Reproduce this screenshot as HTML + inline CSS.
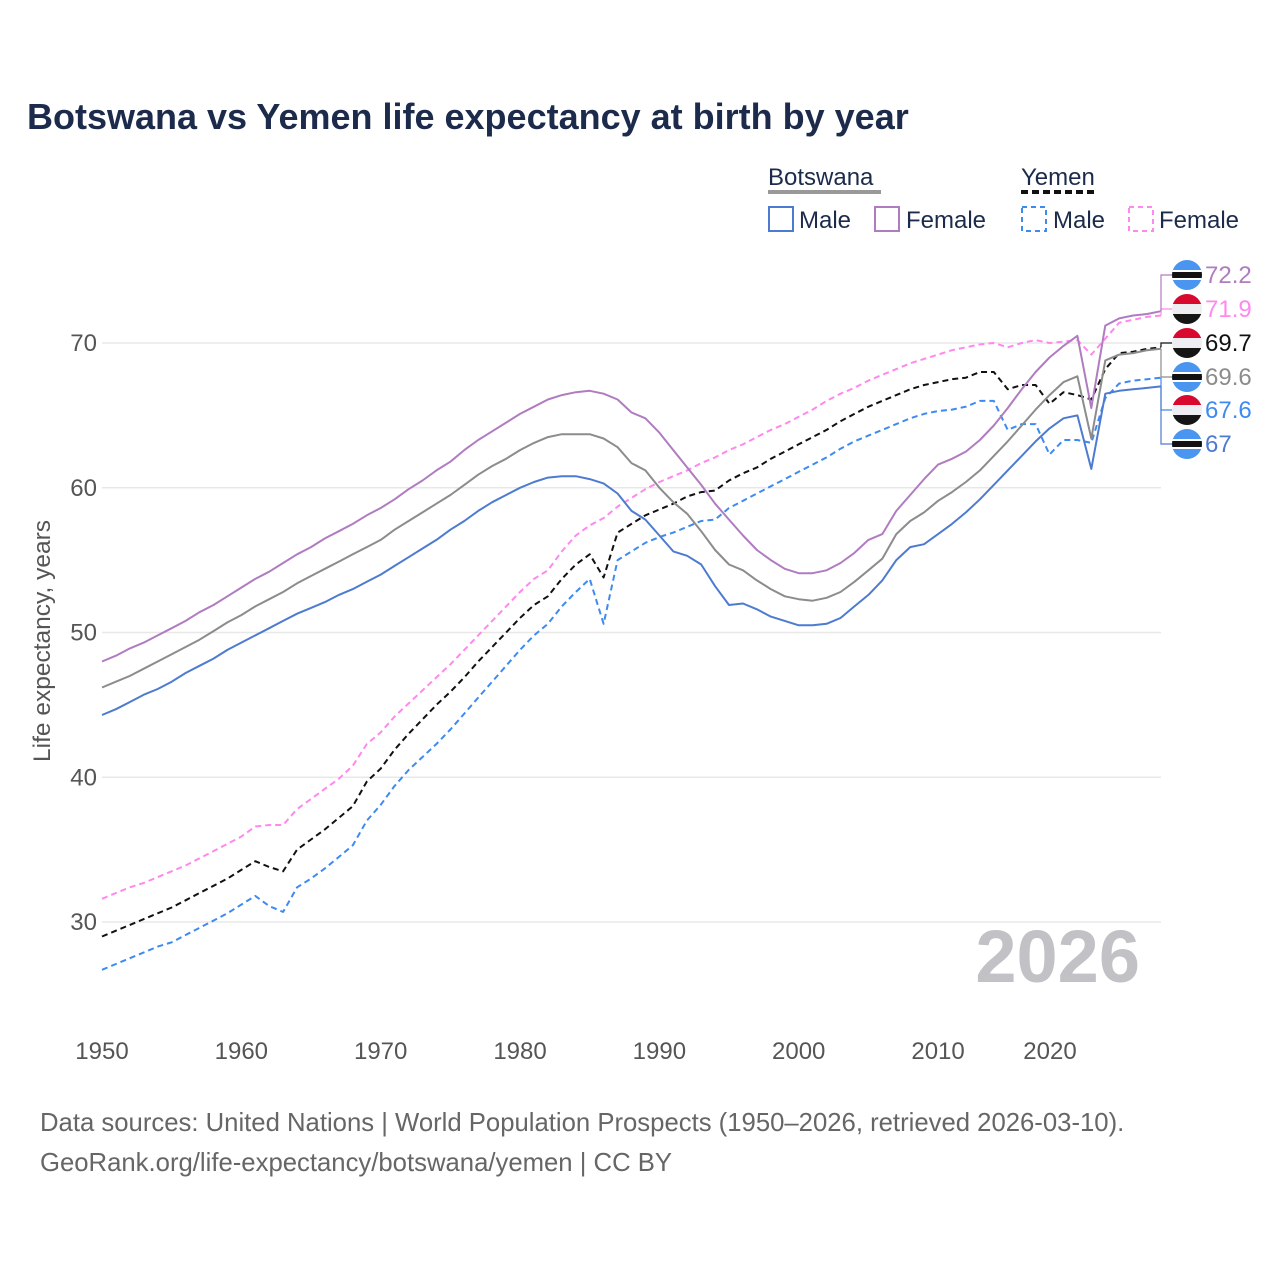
<!DOCTYPE html>
<html><head><meta charset="utf-8">
<style>
html,body{margin:0;padding:0;background:#fff;}
svg{display:block;font-family:"Liberation Sans",sans-serif;}
</style></head>
<body>
<svg id="chart" width="1280" height="1280" viewBox="0 0 1280 1280">
  <defs>
    <clipPath id="circ"><circle cx="0" cy="0" r="15"/></clipPath>
  </defs>
  <text x="27" y="129" font-size="36" font-weight="bold" fill="#1c2b4b">Botswana vs Yemen life expectancy at birth by year</text>

  <g>
    <text x="768" y="185" font-size="24" fill="#1c2b4b">Botswana</text>
    <line x1="768" y1="192" x2="881" y2="192" stroke="#999" stroke-width="4"/>
    <text x="1021" y="185" font-size="24" fill="#1c2b4b">Yemen</text>
    <line x1="1021" y1="192" x2="1098" y2="192" stroke="#111" stroke-width="4" stroke-dasharray="7,4"/>
    <g>
      <rect x="769" y="207" width="24" height="24" fill="none" stroke="#4d7bd0" stroke-width="2"/>
      <text x="799" y="228" font-size="24" fill="#1c2b4b">Male</text>
    </g>
    <g>
      <rect x="875" y="207" width="24" height="24" fill="none" stroke="#b07cc0" stroke-width="2"/>
      <text x="906" y="228" font-size="24" fill="#1c2b4b">Female</text>
    </g>
    <g>
      <rect x="1022" y="207" width="24" height="24" fill="none" stroke="#3d8bf0" stroke-width="2" stroke-dasharray="5,4"/>
      <text x="1053" y="228" font-size="24" fill="#1c2b4b">Male</text>
    </g>
    <g>
      <rect x="1129" y="207" width="24" height="24" fill="none" stroke="#ff88ee" stroke-width="2" stroke-dasharray="5,4"/>
      <text x="1159" y="228" font-size="24" fill="#1c2b4b">Female</text>
    </g>
  </g>

  <g id="grid"></g>
  <g id="yticks"></g>
  <g id="xticks"></g>
  <text transform="translate(50,641) rotate(-90)" text-anchor="middle" font-size="24.5" fill="#555">Life expectancy, years</text>
  <text x="1140" y="982" text-anchor="end" font-size="74" font-weight="bold" fill="#c2c2c6">2026</text>
  <g id="series"></g>
  <g id="endlabels"></g>

  <text x="40" y="1131" font-size="25.7" fill="#666">Data sources: United Nations | World Population Prospects (1950–2026, retrieved 2026-03-10).</text>
  <text x="40" y="1171" font-size="25.7" fill="#666">GeoRank.org/life-expectancy/botswana/yemen | CC BY</text>
</svg>
<script>
const startYear = 1950;
const xTicks = [1950,1960,1970,1980,1990,2000,2010,2020];
const yTicks = [30,40,50,60,70];
const botswanaMale = [44.3,44.7,45.2,45.7,46.1,46.6,47.2,47.7,48.2,48.8,
49.3,49.8,50.3,50.8,51.3,51.7,52.1,52.6,53.0,53.5,
54.0,54.6,55.2,55.8,56.4,57.1,57.7,58.4,59.0,59.5,
60.0,60.4,60.7,60.8,60.8,60.6,60.3,59.6,58.4,57.8,
56.7,55.6,55.3,54.7,53.2,51.9,52.0,51.6,51.1,50.8,
50.5,50.5,50.6,51.0,51.8,52.6,53.6,55.0,55.9,56.1,
56.8,57.5,58.3,59.2,60.2,61.2,62.2,63.2,64.1,64.8,
65.0,61.3,66.5,66.7,66.8,66.9,67.0];
const botswanaTotal = [46.2,46.6,47.0,47.5,48.0,48.5,49.0,49.5,50.1,50.7,
51.2,51.8,52.3,52.8,53.4,53.9,54.4,54.9,55.4,55.9,
56.4,57.1,57.7,58.3,58.9,59.5,60.2,60.9,61.5,62.0,
62.6,63.1,63.5,63.7,63.7,63.7,63.4,62.8,61.7,61.2,
60.0,59.0,58.2,57.0,55.7,54.7,54.3,53.6,53.0,52.5,
52.3,52.2,52.4,52.8,53.5,54.3,55.1,56.8,57.7,58.3,
59.1,59.7,60.4,61.2,62.2,63.2,64.3,65.4,66.4,67.3,
67.7,63.4,68.8,69.2,69.3,69.5,69.6];
const botswanaFemale = [48.0,48.4,48.9,49.3,49.8,50.3,50.8,51.4,51.9,52.5,
53.1,53.7,54.2,54.8,55.4,55.9,56.5,57.0,57.5,58.1,
58.6,59.2,59.9,60.5,61.2,61.8,62.6,63.3,63.9,64.5,
65.1,65.6,66.1,66.4,66.6,66.7,66.5,66.1,65.2,64.8,
63.8,62.6,61.4,60.2,58.9,57.8,56.7,55.7,55.0,54.4,
54.1,54.1,54.3,54.8,55.5,56.4,56.8,58.4,59.5,60.6,
61.6,62.0,62.5,63.3,64.3,65.5,66.8,68.0,69.0,69.8,
70.5,65.5,71.2,71.7,71.9,72.0,72.2];
const yemenFemale = [31.6,32.0,32.4,32.7,33.1,33.5,33.9,34.4,34.9,35.4,
35.9,36.6,36.7,36.7,37.8,38.5,39.2,39.9,40.8,42.3,
43.1,44.2,45.1,46.0,46.9,47.8,48.8,49.8,50.8,51.8,
52.8,53.7,54.3,55.6,56.7,57.4,57.9,58.7,59.3,59.9,
60.4,60.8,61.2,61.7,62.1,62.6,63.0,63.5,64.0,64.4,
64.9,65.4,66.0,66.5,66.9,67.4,67.8,68.2,68.6,68.9,
69.2,69.5,69.7,69.9,70.0,69.7,70.0,70.2,70.0,70.1,
70.2,69.2,70.3,71.4,71.6,71.8,71.9];
const yemenTotal = [29.0,29.4,29.8,30.2,30.6,31.0,31.5,32.0,32.5,33.0,
33.6,34.2,33.8,33.5,35.0,35.7,36.4,37.2,38.0,39.7,
40.6,41.9,43.0,44.0,45.0,45.9,46.9,48.0,49.0,50.0,
51.0,51.9,52.5,53.7,54.7,55.4,53.8,56.9,57.5,58.1,
58.5,58.9,59.4,59.7,59.8,60.5,61.0,61.4,62.0,62.5,
63.0,63.5,64.0,64.6,65.1,65.6,66.0,66.4,66.8,67.1,
67.3,67.5,67.6,68.0,68.0,66.8,67.1,67.1,65.8,66.6,
66.4,66.1,68.2,69.3,69.4,69.6,69.7];
const yemenMale = [26.7,27.1,27.5,27.9,28.3,28.6,29.1,29.6,30.1,30.6,
31.2,31.8,31.1,30.7,32.4,33.0,33.7,34.5,35.3,37.0,
38.1,39.4,40.5,41.4,42.3,43.3,44.4,45.5,46.6,47.7,
48.8,49.8,50.6,51.8,52.8,53.7,50.6,55.0,55.6,56.2,
56.6,56.9,57.3,57.7,57.8,58.6,59.1,59.6,60.1,60.6,
61.1,61.6,62.1,62.7,63.2,63.6,64.0,64.4,64.8,65.1,
65.3,65.4,65.6,66.0,66.0,64.0,64.4,64.4,62.3,63.3,
63.3,63.1,66.2,67.2,67.4,67.5,67.6];

const NS = "http://www.w3.org/2000/svg";
const X0 = 102, X1 = 1161, Y70 = 343, Y30 = 922;
function xScale(year){ return X0 + (year - 1950) * (X1 - X0) / 76; }
function yScale(v){ return Y30 - (v - 30) * (Y30 - Y70) / 40; }
function mk(tag, attrs){ const e = document.createElementNS(NS, tag); for (const k in attrs) e.setAttribute(k, attrs[k]); return e; }

const grid = document.getElementById('grid');
const yt = document.getElementById('yticks');
yTicks.forEach(v => {
  const l = mk('line', {x1: 102, x2: 1161, y1: yScale(v), y2: yScale(v), stroke: '#e8e8e8', 'stroke-width': 1.5});
  
  
  grid.appendChild(l);
  const t = mk('text', {x: 97, y: yScale(v) + 8, 'text-anchor': 'end', 'font-size': 24, fill: '#555'});
  t.textContent = v;
  
  
  yt.appendChild(t);
});
const xt = document.getElementById('xticks');
xTicks.forEach(yr => {
  let cx = xScale(yr);
  if (cx > 1060) cx = 1050;
  const t = mk('text', {x: cx, y: 1059, 'text-anchor': 'middle', 'font-size': 24, fill: '#555'});
  t.textContent = yr;
  
  
  xt.appendChild(t);
});

const seriesDefs = [
  {name: 'yemen-male', data: yemenMale, color: '#3d8bf0', dash: '6,4', flag: 'ye', label: '67.6', ly: 410},
  {name: 'yemen-total', data: yemenTotal, color: '#111', dash: '6,4', flag: 'ye', label: '69.7', ly: 343},
  {name: 'yemen-female', data: yemenFemale, color: '#ff88ee', dash: '6,4', flag: 'ye', label: '71.9', ly: 309},
  {name: 'botswana-male', data: botswanaMale, color: '#4d7bd0', dash: null, flag: 'bw', label: '67', ly: 444},
  {name: 'botswana-total', data: botswanaTotal, color: '#8c8c8c', dash: null, flag: 'bw', label: '69.6', ly: 377},
  {name: 'botswana-female', data: botswanaFemale, color: '#b07cc0', dash: null, flag: 'bw', label: '72.2', ly: 275}
];
const sg = document.getElementById('series');
const eg = document.getElementById('endlabels');
seriesDefs.forEach(s => {
  const pts = s.data.map((v, i) => xScale(startYear + i).toFixed(1) + ',' + yScale(v).toFixed(1)).join(' ');
  const p = mk('polyline', {points: pts, fill: 'none', stroke: s.color, 'stroke-width': 2, 'stroke-linejoin': 'round'});
  if (s.dash) p.setAttribute('stroke-dasharray', s.dash);
  
  
  sg.appendChild(p);

  const lastY = yScale(s.data[s.data.length - 1]);
  const g = mk('g', {});
  
  
  const br = mk('polyline', {points: `${X1},${lastY.toFixed(1)} 1161,${lastY.toFixed(1)} 1161,${s.ly} 1173,${s.ly}`, fill: 'none', stroke: s.color, 'stroke-width': 1.2});
  g.appendChild(br);
  const fg = mk('g', {transform: `translate(1187,${s.ly})`, 'clip-path': 'url(#circ)'});
  if (s.flag === 'bw') {
    fg.appendChild(mk('rect', {x: -16, y: -16, width: 32, height: 32, fill: '#4a95f0'}));
    fg.appendChild(mk('rect', {x: -16, y: -5, width: 32, height: 10, fill: '#fff'}));
    fg.appendChild(mk('rect', {x: -16, y: -3, width: 32, height: 6, fill: '#111'}));
  } else {
    fg.appendChild(mk('rect', {x: -16, y: -16, width: 32, height: 11, fill: '#d9082f'}));
    fg.appendChild(mk('rect', {x: -16, y: -5, width: 32, height: 10, fill: '#eeeef2'}));
    fg.appendChild(mk('rect', {x: -16, y: 5, width: 32, height: 11, fill: '#151515'}));
  }
  g.appendChild(fg);
  const t = mk('text', {x: 1205, y: s.ly + 8, 'font-size': 24, fill: s.color});
  t.textContent = s.label;
  g.appendChild(t);
  eg.appendChild(g);
});
</script>
</body></html>
